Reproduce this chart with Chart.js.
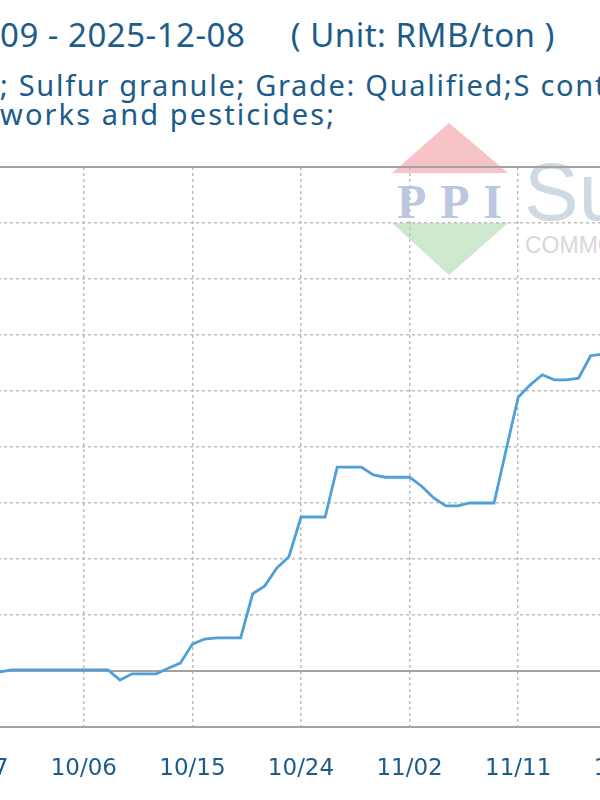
<!DOCTYPE html>
<html>
<head>
<meta charset="utf-8">
<script src="https://cdn.jsdelivr.net/npm/chart.js@4"></script>
<style>
  html, body { margin: 0; padding: 0; background: #fff; }
  body { width: 600px; height: 800px; overflow: hidden; position: relative; }
  .title { position: absolute; left: 0; white-space: pre; color: #1d5c8a; line-height: 1;
           font-family: "Noto Sans", sans-serif; }
  #wm { position: absolute; left: 0; top: 0; z-index: 0; }
  #wrap { position: absolute; left: -242px; top: 0; width: 1110px; height: 800px; z-index: 1; }
</style>
</head>
<body>
<div class="title" style="top:18px;font-size:33px;letter-spacing:0.5px;">09 - 2025-12-08     ( Unit: RMB/ton )</div>
<div class="title" style="top:70px;font-size:29px;letter-spacing:1.7px;">; Sulfur granule; Grade: Qualified;S content</div>
<div class="title" style="top:99px;font-size:29px;letter-spacing:2.1px;">works and pesticides;</div>

<svg id="wm" width="600" height="300">
  <polygon points="449,123 392,173 508,173" fill="#f6c4c6"/>
  <polygon points="392,223 508,223 449,275" fill="#cde8cf"/>
  <text x="397" y="218" font-family="Liberation Serif, serif" font-size="48" font-weight="bold" fill="#bcc8df" textLength="105">PPI</text>
  <text x="524" y="220" font-family="Liberation Sans, sans-serif" font-size="82" fill="#cfd9e4">Su</text>
  <text x="525" y="253" font-family="Liberation Sans, sans-serif" font-size="23" fill="#d8d8d8">COMMODITY</text>
</svg>

<div id="wrap"><canvas id="c"></canvas></div>

<script>
// visible window of the daily price series (RMB/ton)
const startDate = '2025-09-09';
const dates = ['09/28','09/29','09/30','10/01','10/02','10/03','10/04','10/05','10/06','10/07',
  '10/08','10/09','10/10','10/11','10/12','10/13','10/14','10/15','10/16','10/17',
  '10/18','10/19','10/20','10/21','10/22','10/23','10/24','10/25','10/26','10/27',
  '10/28','10/29','10/30','10/31','11/01','11/02','11/03','11/04','11/05','11/06',
  '11/07','11/08','11/09','11/10','11/11','11/12','11/13','11/14','11/15','11/16',
  '11/17','11/18'];
const prices = [2998,2998,3002,3002,3002,3002,3002,3002,3002,3002,
  3002,2984,2995,2995,2995,3005,3014,3048,3057,3059,
  3059,3059,3138,3152,3184,3204,3275,3275,3275,3364,
  3364,3364,3350,3346,3346,3346,3330,3309,3295,3295,
  3300,3300,3300,3395,3489,3511,3529,3520,3520,3523,
  3563,3566];
const tickLabels = ['09/09','09/18','09/27','10/06','10/15','10/24','11/02','11/11','11/20','11/29','12/08'];
const yMin = 2900, yMax = 3900, yStep = 100;
const solidLevels = [3000, 3900, 2900];

const t0 = new Date(startDate + 'T00:00:00Z').getTime();
const dayOf = s => {
  const [m, d] = s.split('/').map(Number);
  return Math.round((Date.UTC(2025, m - 1, d) - t0) / 86400000);
};
const points = dates.map((d, i) => ({ x: dayOf(d), y: prices[i] }));
const tickDays = tickLabels.map(dayOf);

const solidLines = {
  id: 'solidLines',
  beforeDatasetsDraw(chart) {
    const { ctx, chartArea, scales } = chart;
    ctx.save();
    ctx.strokeStyle = '#a3a3a3';
    ctx.lineWidth = 2;
    solidLevels.forEach(v => {
      const y = Math.round(scales.y.getPixelForValue(v));
      ctx.beginPath();
      ctx.moveTo(chartArea.left, y);
      ctx.lineTo(chartArea.right, y);
      ctx.stroke();
    });
    ctx.restore();
  }
};

new Chart(document.getElementById('c'), {
  type: 'line',
  data: {
    datasets: [{
      data: points,
      borderColor: '#4f9fd9',
      borderWidth: 2.8,
      pointRadius: 0,
      tension: 0,
      fill: false
    }]
  },
  options: {
    responsive: true,
    maintainAspectRatio: false,
    animation: false,
    layout: { padding: { top: 167, left: 0, right: 24, bottom: 0 } },
    plugins: { legend: { display: false }, tooltip: { enabled: false } },
    scales: {
      x: {
        type: 'linear',
        min: tickDays[0],
        max: tickDays[tickDays.length - 1],
        afterBuildTicks: s => { s.ticks = tickDays.map(v => ({ value: v })); },
        afterFit: s => { s.height = 73; s.paddingLeft = 0; s.paddingRight = 0; },
        ticks: {
          autoSkip: false,
          maxRotation: 0,
          padding: 28,
          color: '#1d5c8a',
          font: { family: 'DejaVu Sans', size: 23 },
          callback: v => tickLabels[tickDays.indexOf(v)]
        },
        grid: { color: '#bdbdbd', lineWidth: 1.5, drawTicks: false },
        border: { display: false, dash: [3, 3] }
      },
      y: {
        min: yMin,
        max: yMax,
        ticks: { display: false, stepSize: yStep },
        afterFit: s => { s.width = 0; s.paddingTop = 0; s.paddingBottom = 0; },
        grid: {
          drawTicks: false,
          lineWidth: 1.5,
          color: c => solidLevels.includes(c.tick && c.tick.value) ? 'rgba(0,0,0,0)' : '#bdbdbd'
        },
        border: { display: false, dash: [3, 3] }
      }
    }
  },
  plugins: [solidLines]
});
</script>
</body>
</html>
